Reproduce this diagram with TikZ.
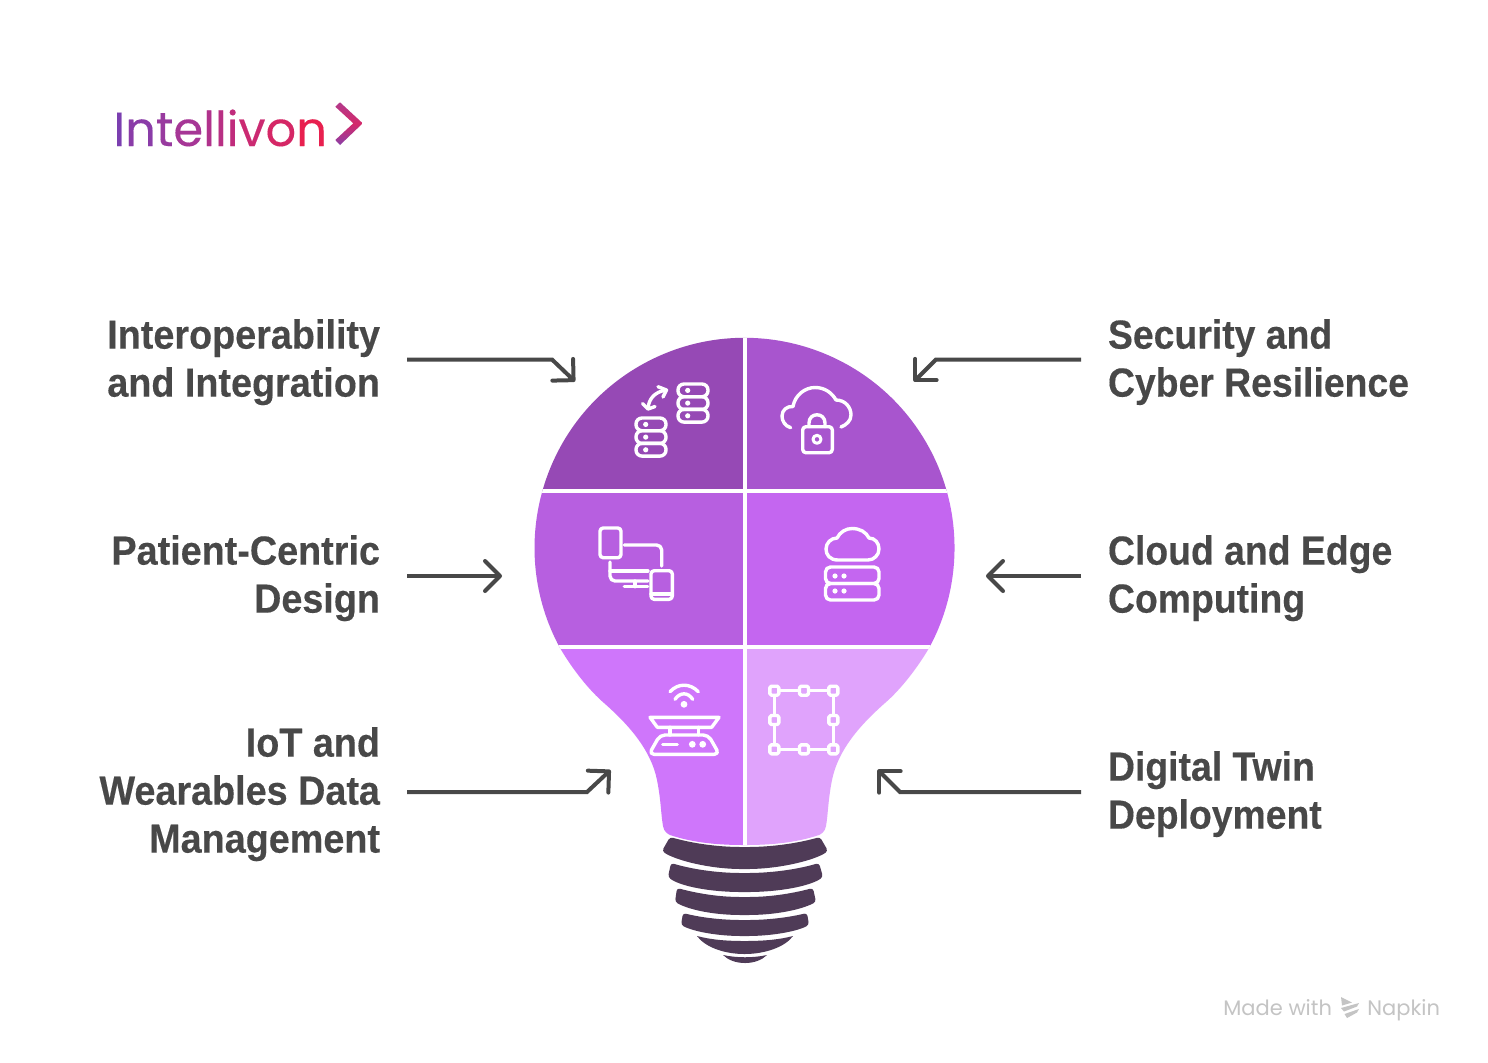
\documentclass[tikz,border=0pt]{standalone}
\usepackage{fontspec}
\usetikzlibrary{arrows.meta}
\setmainfont{Liberation Sans}
\newfontfamily\lblfont[FakeStretch=0.93,BoldFeatures={FakeBold=0.3}]{Liberation Sans}
\newfontfamily\lblfontR[FakeStretch=0.92,BoldFeatures={FakeBold=0.3}]{Liberation Sans}
\newfontfamily\logofont[FakeBold=0.2]{Poppins}
\newfontfamily\footfont{Poppins}
\definecolor{ink}{HTML}{484848}
\definecolor{segA}{HTML}{9649B5}
\definecolor{segB}{HTML}{A855CE}
\definecolor{segC}{HTML}{B75FE0}
\definecolor{segD}{HTML}{C466F0}
\definecolor{segE}{HTML}{CF76FB}
\definecolor{segF}{HTML}{E0A3FC}
\definecolor{basecol}{HTML}{4F3B57}
\definecolor{footgray}{HTML}{C4C4C4}
\definecolor{chevT}{HTML}{B23A8C}
\definecolor{chevM}{HTML}{D4296A}
\definecolor{chevB}{HTML}{8A3FA8}
\newcommand{\logoch}[2]{{\color[HTML]{#1}#2}}
\tikzset{
  lbl/.style={inner sep=0pt,outer sep=0pt,text=ink},
  lblL/.style={lbl,anchor=east,align=right,font=\lblfont\bfseries\fontsize{20.3}{24}\selectfont},
  lblR/.style={lbl,anchor=west,align=left,font=\lblfontR\bfseries\fontsize{20.3}{24}\selectfont},
  conn/.style={draw=ink,line width=2pt,line join=miter,-{Straight Barb[length=7.5pt,width=15pt,round,line width=2pt]}},
  ico/.style={draw=white,line width=1.7pt,line cap=round,line join=round},
  dotw/.style={fill=white,draw=none},
  basep/.style={fill=basecol,draw=none,rounded corners=1.5pt},
  footer/.style={inner sep=0pt,text=footgray,font=\footfont\fontsize{10.5}{13}\selectfont}
}
\begin{document}
\begin{tikzpicture}[x=0.5pt,y=-0.5pt]
\useasboundingbox (0,0) rectangle (1488,1062);
\fill[white] (0,0) rectangle (1488,1062);

% logo
\node[inner sep=0pt,anchor=base west,font=\logofont\fontsize{24}{28}\selectfont] (logo) at (113,146)
 {\logoch{7B3FB0}{I}\logoch{8A3CA8}{n}\logoch{983A9F}{t}\logoch{A63696}{e}\logoch{B0328C}{l}\logoch{B83084}{l}\logoch{C02C7C}{i}\logoch{CB2A72}{v}\logoch{D52766}{o}\logoch{E8204F}{n}};
\shade[top color=chevT,bottom color=chevB,middle color=chevM] (340,102.3)--(362.7,123.3)--(340,145)--(335.3,140)--(353.3,123.3)--(335.3,106.7)--cycle;

% bulb segments
\begin{scope}
\clip (560,648) arc[start angle=208.5,end angle=-28.5,radius=105pt]
 .. controls (916,670) and (900,690) .. (885,703)
 .. controls (860,725) and (838,750) .. (832,780)
 .. controls (828,800) and (828,815) .. (826,826)
 .. controls (825,832) and (821,834) .. (819,835)
 .. controls (795,843) and (770,845) .. (744.5,845)
 .. controls (719,845) and (694,843) .. (670,835)
 .. controls (668,834) and (664,832) .. (663,826)
 .. controls (661,815) and (661,800) .. (657,780)
 .. controls (651,750) and (629,725) .. (604,703)
 .. controls (589,690) and (573,670) .. (560,648) -- cycle;
\fill[segA] (500,330) rectangle (744.5,491);
\fill[segB] (744.5,330) rectangle (1000,491);
\fill[segC] (500,491) rectangle (744.5,646.5);
\fill[segD] (744.5,491) rectangle (1000,646.5);
\fill[segE] (500,646.5) rectangle (744.5,860);
\fill[segF] (744.5,646.5) rectangle (1000,860);
\draw[white,line width=2pt] (744.5,330) -- (744.5,860);
\draw[white,line width=2pt] (500,491) -- (1000,491);
\draw[white,line width=2pt] (500,646.5) -- (1000,646.5);
\end{scope}

% bulb base
\fill[basep] (670,837) .. controls (695,844) and (720,847) .. (744.5,847) .. controls (769,847) and (795,844) .. (820,837)
 -- (828,851) .. controls (815,860) and (780,869) .. (744.5,869) .. controls (709,869) and (675,860) .. (662,851) -- cycle;
\fill[basep] (671,863) .. controls (695,870) and (720,873) .. (744.5,873) .. controls (769,873) and (795,870) .. (819,863)
 -- (823,877) .. controls (810,886) and (780,892) .. (744.5,892) .. controls (709,892) and (680,886) .. (668,877) -- cycle;
\fill[basep] (677,888) .. controls (700,894) and (720,897) .. (744.5,897) .. controls (769,897) and (790,894) .. (813,888)
 -- (816,902) .. controls (800,910) and (775,915) .. (744.5,915) .. controls (714,915) and (690,910) .. (675,902) -- cycle;
\fill[basep] (683,913) .. controls (703,918) and (724,920) .. (744.5,920) .. controls (765,920) and (786,918) .. (807,913)
 -- (809,925) .. controls (795,932) and (770,936) .. (744.5,936) .. controls (719,936) and (695,932) .. (681,925) -- cycle;
\fill[basep,rounded corners=0pt] (697,936) .. controls (712,940) and (728,941) .. (744.5,941) .. controls (761,941) and (778,940) .. (793,936)
 .. controls (785,947) and (765,954) .. (744.5,954) .. controls (724,954) and (705,947) .. (697,936) -- cycle;
\fill[basep,rounded corners=0pt] (723,955) .. controls (737,958) and (753,958) .. (767,955) .. controls (762,960) and (754,963) .. (745,963) .. controls (736,963) and (728,960) .. (723,955) -- cycle;

% labels
\node[lblL] (lA) at (380,363) {Interoperability\strut\\and Integration\strut};
\node[lblL] (lB) at (380,579) {Patient-Centric\strut\\Design\strut};
\node[lblL] (lC) at (380,795) {IoT and\strut\\Wearables Data\strut\\Management\strut};
\node[lblR] (rA) at (1108,363) {Security and\strut\\Cyber Resilience\strut};
\node[lblR] (rB) at (1108,579) {Cloud and Edge\strut\\Computing\strut};
\node[lblR] (rC) at (1108,795) {Digital Twin\strut\\Deployment\strut};

% connector bends and tips
\coordinate (tA) at (575,381.5);
\coordinate (bA) at (552,359.5);
\coordinate (tB) at (502,576);
\coordinate (tC) at (610.5,770);
\coordinate (bC) at (587,792);
\coordinate (uA) at (914,381.5);
\coordinate (cA) at (936,359.5);
\coordinate (uB) at (986,576);
\coordinate (uC) at (878,770);
\coordinate (cC) at (900,792);

\draw[conn] ([xshift=13.5pt]lA.east |- bA) -- (bA) -- (tA);
\draw[conn] ([xshift=13.5pt]lB.east |- tB) -- (tB);
\draw[conn] ([xshift=13.5pt]lC.east |- bC) -- (bC) -- (tC);
\draw[conn] ([xshift=-13.5pt]rA.west |- cA) -- (cA) -- (uA);
\draw[conn] ([xshift=-13.5pt]rB.west |- uB) -- (uB);
\draw[conn] ([xshift=-13.5pt]rC.west |- cC) -- (cC) -- (uC);

% icon: databases with exchange arrow
\foreach \dx/\dy in {678/384,636/418}{
  \foreach \k in {0,1,2}{
    \draw[ico,rounded corners=3pt] (\dx,\dy+\k*12.7) rectangle (\dx+30,\dy+12.7+\k*12.7);
    \fill[dotw] (\dx+9.7,\dy+6.4+\k*12.7) circle[radius=1.3pt];
  }
}
\draw[ico] (666,390) .. controls (655,392) and (649,398) .. (648,408.5);
\draw[ico] (658,386.7) -- (666.5,390) -- (663,397);
\draw[ico] (642.5,403.5) -- (648,409) -- (655,406.5);

% icon: cloud lock
\draw[ico] (790.7,427.7) .. controls (785,426) and (782,421) .. (782,416)
 .. controls (782,410) and (787,406) .. (793,406.5)
 .. controls (795,395) and (805,387.5) .. (815,387.5)
 .. controls (825,387.5) and (832,393) .. (836,400)
 .. controls (845,400) and (851,407) .. (851,415)
 .. controls (851,421) and (846,425) .. (841,427);
\draw[ico,rounded corners=1.6pt] (802.7,426.7) rectangle (832.3,452.7);
\draw[ico] (809,426.7) -- (809,423) .. controls (809,412) and (825,412) .. (825,423) -- (825,426.7);
\draw[ico,line width=1.5pt] (817,439.3) circle[radius=2pt];

% icon: connected devices
\draw[ico,rounded corners=1.6pt] (600,528) rectangle (621,557.7);
\draw[ico,rounded corners=2.5pt] (624.3,545) -- (661.7,545) -- (661.7,566);
\draw[ico,rounded corners=2.5pt] (610,562) -- (610,581) -- (648,581);
\draw[ico] (610,571) -- (648,571);
\draw[ico] (635,581) -- (635,586.7);
\draw[ico] (624.3,586.7) -- (647.7,586.7);
\draw[ico,rounded corners=1.6pt] (651,570.7) rectangle (672.3,599.3);
\draw[ico] (651,594) -- (672.3,594);

% icon: cloud and servers
\draw[ico] (838,560) .. controls (830,560) and (826,555) .. (826,549)
 .. controls (826,543) and (831,538) .. (837,538)
 .. controls (840,532) and (846,528.5) .. (852,528.5)
 .. controls (860,528.5) and (866,532) .. (869,538)
 .. controls (875,538) and (879,543) .. (879,549)
 .. controls (879,555) and (874,560) .. (868,560) -- cycle;
\draw[ico,rounded corners=2.5pt] (825.5,567) rectangle (879,583.5);
\draw[ico,rounded corners=2.5pt] (825.5,583.5) rectangle (879,600);
\foreach \px/\py in {835/576,844/576,835/591,844/591}{\fill[dotw] (\px,\py) circle[radius=1.3pt];}

% icon: connected scale
\fill[dotw] (684,704.3) circle[radius=1.7pt];
\draw[ico] (675,699.3) .. controls (680,692) and (688,692) .. (692.7,699.3);
\draw[ico] (670,691.7) .. controls (678,683) and (690,683) .. (698.3,691.7);
\draw[ico] (650,717.3) -- (719,717.3) -- (711.7,727.3) -- (657.3,727.3) -- cycle;
\draw[ico] (670,727.3) -- (670,735);
\draw[ico] (698.3,727.3) -- (698.3,735);
\draw[ico,rounded corners=2.5pt] (660,735) -- (708.3,735) -- (719.3,754.3) -- (649,754.3) -- cycle;
\draw[ico] (662.7,744.3) -- (677.3,744.3);
\fill[dotw] (692.3,744.3) circle[radius=1.7pt];
\fill[dotw] (702.7,744.3) circle[radius=1.7pt];

% icon: twin frame
\draw[ico] (774.3,690.7) rectangle (833.3,749.3);
\foreach \px/\py in {774.3/690.7,804/690.7,833.3/690.7,774.3/720,833.3/720,774.3/749.3,804/749.3,833.3/749.3}{
  \filldraw[ico,fill=segF,rounded corners=0.8pt] (\px-4.5,\py-4.5) rectangle (\px+4.5,\py+4.5);
}

% footer
\node[footer,anchor=base west] (made) at (1223,1015) {Made with};
\node[footer,anchor=base west] (nap) at (1367,1015) {Napkin};
\fill[footgray] (1341,997) -- (1352,1002.5) -- (1342,1005.5) -- cycle;
\fill[footgray] (1341,1008) -- (1359,1003) -- (1357,1006.5) -- (1344,1011.5) -- cycle;
\fill[footgray] (1344.5,1014) -- (1359,1009) -- (1357,1012.5) -- (1347,1018) -- cycle;
\end{tikzpicture}
\end{document}
